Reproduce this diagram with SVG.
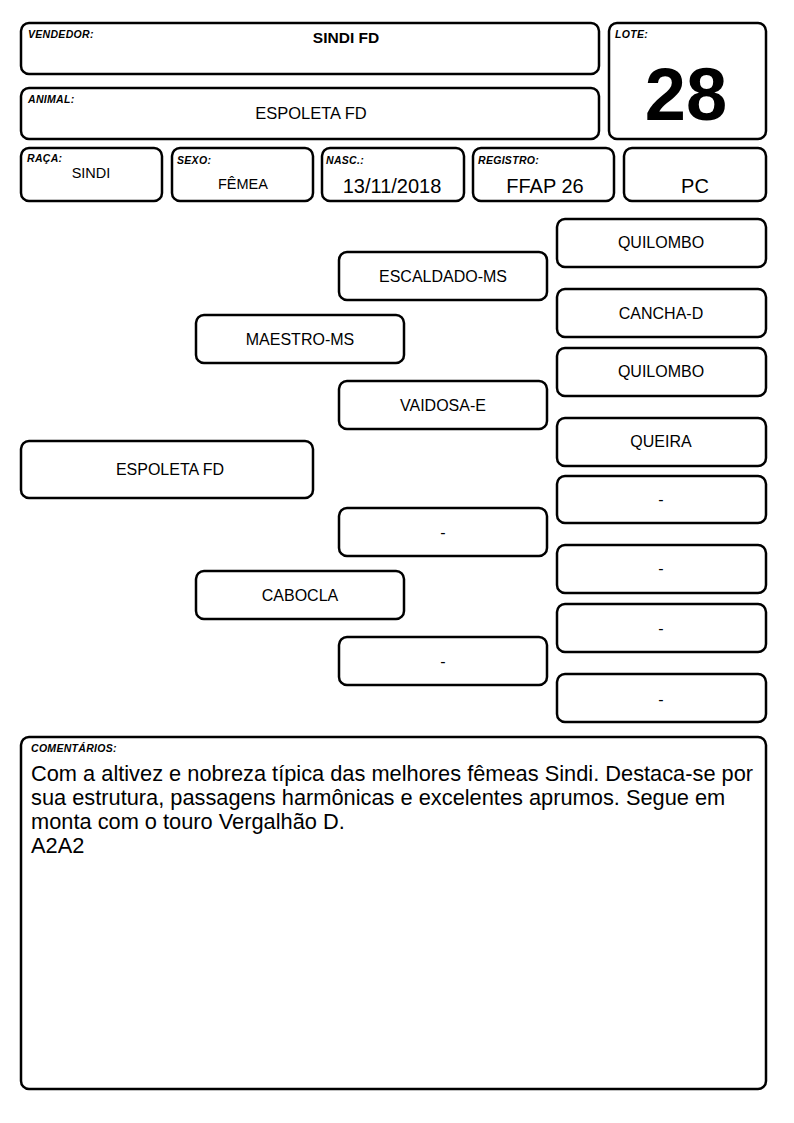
<svg xmlns="http://www.w3.org/2000/svg" width="794" height="1123" viewBox="0 0 794 1123">
<style>
.b{fill:#fff;stroke:#000;stroke-width:2.5}
.l{font-family:"Liberation Sans",Arial,sans-serif;font-size:10.5px;font-weight:bold;font-style:italic;letter-spacing:0.3px}
.v{font-family:"Liberation Sans",Arial,sans-serif;font-size:14.5px;text-anchor:middle}
.v2{font-family:"Liberation Sans",Arial,sans-serif;font-size:20px;text-anchor:middle}
.p{font-family:"Liberation Sans",Arial,sans-serif;font-size:16px;text-anchor:middle}
.c{font-family:"Liberation Sans",Arial,sans-serif;font-size:21.8px}
</style>
<rect width="794" height="1123" fill="#fff"/>
<g id="vendedor"><rect class="b" x="21" y="23" width="578" height="51" rx="8"/><text class="l" x="28" y="38">VENDEDOR:</text><text x="346" y="43" font-family="Liberation Sans,Arial,sans-serif" font-size="15.5" font-weight="bold" text-anchor="middle">SINDI FD</text></g>
<g id="animal"><rect class="b" x="21" y="88" width="578" height="51" rx="8"/><text class="l" x="28" y="103">ANIMAL:</text><text x="311" y="119" font-family="Liberation Sans,Arial,sans-serif" font-size="16.5" text-anchor="middle">ESPOLETA FD</text></g>
<g id="lote"><rect class="b" x="609" y="23" width="157" height="116" rx="8"/><text class="l" x="615" y="38">LOTE:</text><text x="686" y="120" font-family="Liberation Sans,Arial,sans-serif" font-size="74" font-weight="bold" text-anchor="middle">28</text></g>
<g id="raca"><rect class="b" x="21" y="148" width="141" height="53" rx="8"/><text class="l" x="27" y="162">RAÇA:</text><text class="v" x="91" y="178">SINDI</text></g>
<g id="sexo"><rect class="b" x="172" y="148" width="141" height="53" rx="8"/><text class="l" x="177" y="164">SEXO:</text><text class="v" x="243" y="189">FÊMEA</text></g>
<g id="nasc"><rect class="b" x="322" y="148" width="142" height="53" rx="8"/><text class="l" x="326" y="164">NASC.:</text><text class="v2" x="392" y="193">13/11/2018</text></g>
<g id="registro"><rect class="b" x="473" y="148" width="141" height="53" rx="8"/><text class="l" x="478" y="164">REGISTRO:</text><text class="v2" x="545" y="193">FFAP 26</text></g>
<g id="pc"><rect class="b" x="624" y="148" width="142" height="53" rx="8"/><text class="v2" x="695" y="193">PC</text></g>
<g id="connectors"></g>
<g id="n-animal"><rect class="b" x="21" y="441" width="292" height="57" rx="8"/><text class="p" x="170" y="475">ESPOLETA FD</text></g>
<g id="n-pai"><rect class="b" x="196" y="315" width="208" height="48" rx="8"/><text class="p" x="300" y="345">MAESTRO-MS</text></g>
<g id="n-mae"><rect class="b" x="196" y="571" width="208" height="48" rx="8"/><text class="p" x="300" y="601">CABOCLA</text></g>
<g id="n-av1"><rect class="b" x="339" y="252" width="208" height="48" rx="8"/><text class="p" x="443" y="282">ESCALDADO-MS</text></g>
<g id="n-av2"><rect class="b" x="339" y="381" width="208" height="48" rx="8"/><text class="p" x="443" y="411">VAIDOSA-E</text></g>
<g id="n-av3"><rect class="b" x="339" y="508" width="208" height="48" rx="8"/><text class="p" x="443" y="538">-</text></g>
<g id="n-av4"><rect class="b" x="339" y="637" width="208" height="48" rx="8"/><text class="p" x="443" y="667">-</text></g>
<g id="n-b1"><rect class="b" x="557" y="219" width="209" height="48" rx="8"/><text class="p" x="661" y="248">QUILOMBO</text></g>
<g id="n-b2"><rect class="b" x="557" y="289" width="209" height="48" rx="8"/><text class="p" x="661" y="319">CANCHA-D</text></g>
<g id="n-b3"><rect class="b" x="557" y="348" width="209" height="48" rx="8"/><text class="p" x="661" y="377">QUILOMBO</text></g>
<g id="n-b4"><rect class="b" x="557" y="418" width="209" height="48" rx="8"/><text class="p" x="661" y="447">QUEIRA</text></g>
<g id="n-b5"><rect class="b" x="557" y="476" width="209" height="47" rx="8"/><text class="p" x="661" y="505">-</text></g>
<g id="n-b6"><rect class="b" x="557" y="545" width="209" height="48" rx="8"/><text class="p" x="661" y="574">-</text></g>
<g id="n-b7"><rect class="b" x="557" y="604" width="209" height="48" rx="8"/><text class="p" x="661" y="634">-</text></g>
<g id="n-b8"><rect class="b" x="557" y="674" width="209" height="48" rx="8"/><text class="p" x="661" y="705">-</text></g>
<g id="comentarios"><rect class="b" x="21" y="737" width="745" height="352" rx="8"/><text class="l" x="31" y="752">COMENTÁRIOS:</text>
<text class="c" x="31" y="781">Com a altivez e nobreza típica das melhores fêmeas Sindi. Destaca-se por</text>
<text class="c" x="31" y="805">sua estrutura, passagens harmônicas e excelentes aprumos. Segue em</text>
<text class="c" x="31" y="829">monta com o touro Vergalhão D.</text>
<text class="c" x="31" y="853">A2A2</text></g>
</svg>
